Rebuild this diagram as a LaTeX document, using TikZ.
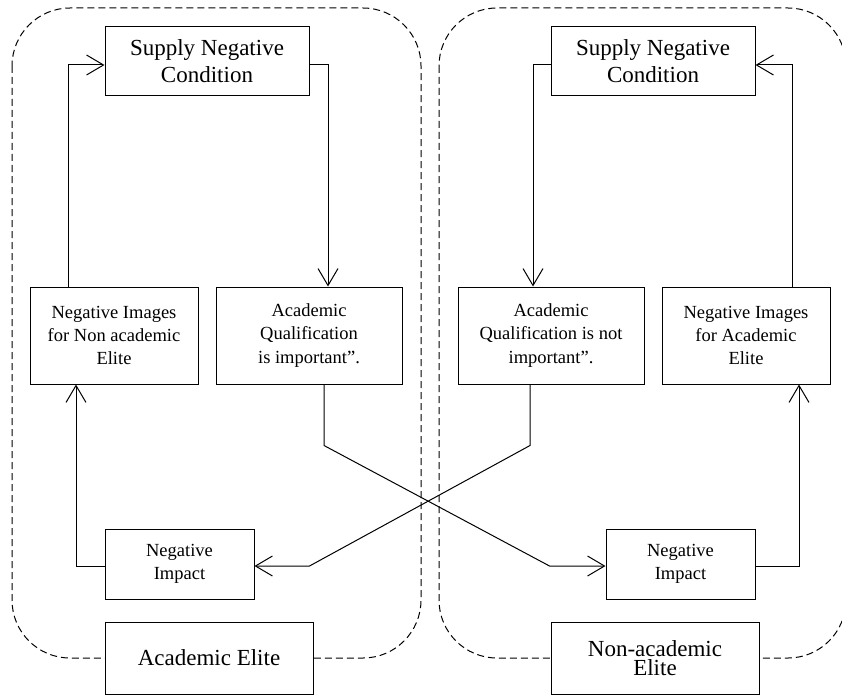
\documentclass[tikz,border=0pt]{standalone}
\usepackage{fontspec}
\setmainfont{Liberation Serif}
\usetikzlibrary{arrows.meta,calc}

\begin{document}
\begin{tikzpicture}[x=1pt,y=-1pt,
		box/.style={draw,fill=white,line width=1pt,align=center,inner sep=0pt,font=\fontsize{18.5}{23.3}\selectfont},
		bigbox/.style={box,font=\fontsize{23}{27}\selectfont},
		link/.style={line width=1pt,-{Straight Barb[length=17pt,width=20pt,line width=1pt]}},
		group/.style={draw=black,dash pattern=on 7pt off 4pt,line width=1pt,rounded corners=58pt}]
		\useasboundingbox (0,0) rectangle (842,695);
		\clip (0,0) rectangle (842,695);
		\draw[group] (12,8) rectangle (421,658);
		\draw[group] (439,8) rectangle (846,658);
		\node[bigbox,minimum width=204,minimum height=69] (supplyA) at (207,61.5) {Supply Negative\\Condition};
		\node[box,minimum width=168,minimum height=97] (imagesA) at (114,335.5) {Negative Images\\for Non academic\\Elite};
		\node[box,minimum width=186,minimum height=97] (qualA) at (309,335.5) {Academic\\Qualification\\is important”.};
		\node[box,minimum width=149,minimum height=70] (impactA) at (179.5,564) {Negative\\Impact};
		\node[bigbox,minimum width=208,minimum height=72] (eliteA) at (209,658) {Academic Elite};
		\node[bigbox,minimum width=204,minimum height=69] (supplyB) at (653,61.5) {Supply Negative\\Condition};
		\node[box,minimum width=186,minimum height=97] (qualB) at (551,335.5) {Academic\\Qualification is not\\important”.};
		\node[box,minimum width=168,minimum height=97] (imagesB) at (746,335.5) {Negative Images\\for Academic\\Elite};
		\node[box,minimum width=149,minimum height=70] (impactB) at (680.5,564) {Negative\\Impact};
		\node[bigbox,minimum width=208,minimum height=72,font=\fontsize{23}{19}\selectfont] (eliteB) at (655,658) {Non-academic\\Elite};
		\draw[link] ($(imagesA.north)+(-46,0)$) |- ($(supplyA.west)+(0,3.5)$);
		\draw[link] ($(supplyA.east)+(0,3.5)$) -| ($(qualA.north)+(19,0)$);
		\draw[link] ($(impactA.west)+(0,2)$) -| ($(imagesA.south)+(-38,0)$);
		\draw[link] ($(qualA.south)+(15,0)$) -- ++(0,61) -- ($(impactB.west)+(-56,2)$) -- ($(impactB.west)+(0,2)$);
		\draw[link] ($(qualB.south)+(-21,0)$) -- ++(0,61) -- ($(impactA.east)+(55,2)$) -- ($(impactA.east)+(0,2)$);
		\draw[link] ($(impactB.east)+(0,2)$) -| ($(imagesB.south)+(53,0)$);
		\draw[link] ($(imagesB.north)+(46,0)$) |- ($(supplyB.east)+(0,3.5)$);
		\draw[link] ($(supplyB.west)+(0,3.5)$) -| ($(qualB.north)+(-18,0)$);
	\end{tikzpicture}
\end{document}
